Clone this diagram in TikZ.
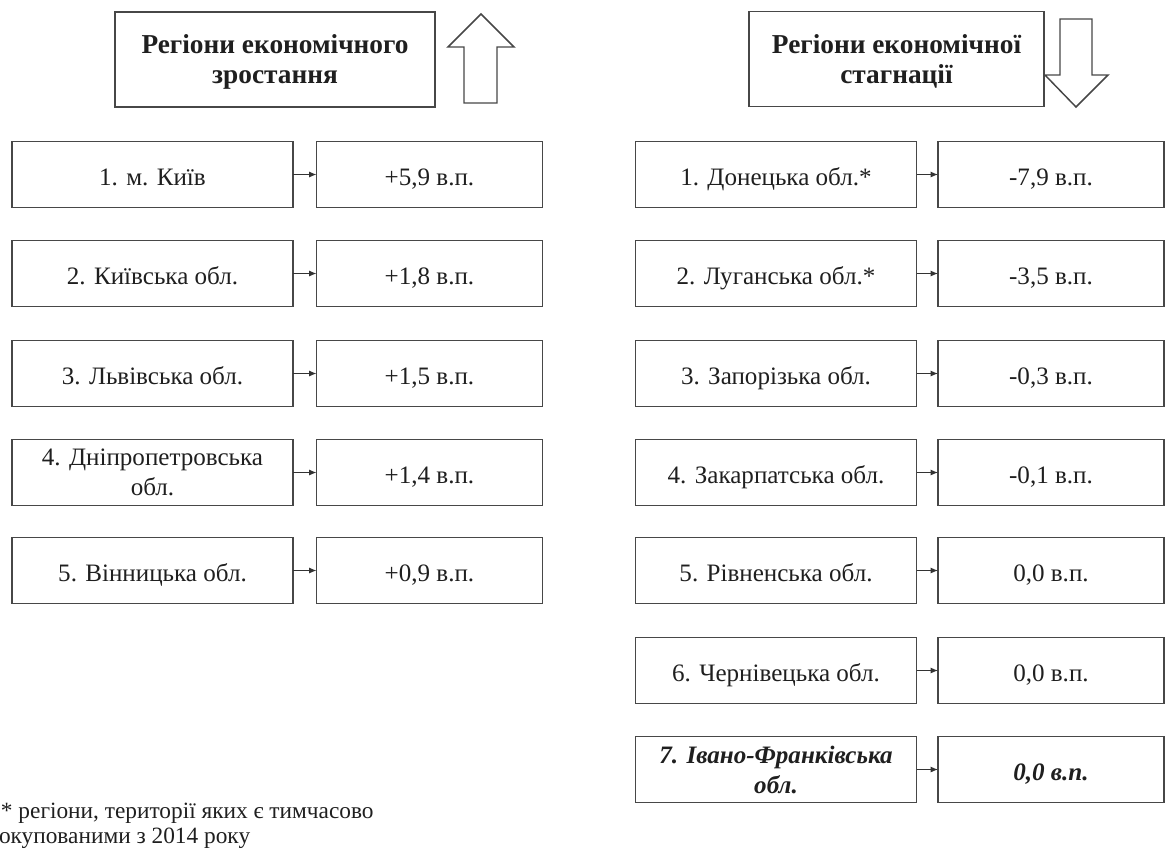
\documentclass[tikz,border=0pt]{standalone}
\usepackage{fontspec}
\setmainfont{Liberation Serif}
\usetikzlibrary{arrows.meta}
\begin{document}
\begin{tikzpicture}[x=0.75pt,y=-0.75pt,
  every node/.style={inner sep=0pt,outer sep=0pt,text=black!88},
  boxa/.style={draw=black!72,line width=1.1pt,minimum width=281*0.75pt,minimum height=66*0.75pt,align=center,
    font=\fontsize{18.8}{22.5}\selectfont,text depth=0pt,execute at begin node={\rule{0pt}{16.5pt}}},
  boxb/.style={boxa,minimum width=226*0.75pt},
  head/.style={draw=black!72,line width=1.1pt,minimum height=95*0.75pt,align=center,
    font=\fontsize{20.5}{22.5}\selectfont\bfseries,text depth=0pt,execute at begin node={\rule{0pt}{15pt}}},
  conn/.style={draw=black!80,line width=0.8pt,-{Latex[length=5.5pt,width=4.5pt]}},
  bigarrow/.style={draw=black!72,line width=1.1pt,line join=miter},
  note/.style={anchor=base west,font=\fontsize{17.5}{21}\selectfont}
]
\useasboundingbox (0,0) rectangle (1165,850);

% headers
\node[head,minimum width=320*0.75pt] (hl) at (275,59.5) {Регіони економічного\\зростання};
\node[head,minimum width=295*0.75pt] (hr) at (896.5,59) {Регіони економічної\\стагнації};

% big arrows
\draw[bigarrow] (481,14) -- (514,47) -- (497,47) -- (497,103) -- (464,103) -- (464,47) -- (448,47) -- cycle;
\draw[bigarrow] (1060,19) -- (1092,19) -- (1092,75) -- (1108,75) -- (1076,107) -- (1045,75) -- (1060,75) -- cycle;

% left column
\node[boxa] (l1) at (152.5,174.5) {1. м. Київ};
\node[boxb] (lv1) at (429.5,174.5) {+5,9 в.п.};
\node[boxa] (l2) at (152.5,273.5) {2. Київська обл.};
\node[boxb] (lv2) at (429.5,273.5) {+1,8 в.п.};
\node[boxa] (l3) at (152.5,373.5) {3. Львівська обл.};
\node[boxb] (lv3) at (429.5,373.5) {+1,5 в.п.};
\node[boxa] (l4) at (152.5,472.5) {4. Дніпропетровська\\обл.};
\node[boxb] (lv4) at (429.5,472.5) {+1,4 в.п.};
\node[boxa] (l5) at (152.5,570.5) {5. Вінницька обл.};
\node[boxb] (lv5) at (429.5,570.5) {+0,9 в.п.};

% right column
\node[boxa] (r1) at (776,174.5) {1. Донецька обл.*};
\node[boxb] (rv1) at (1051,174.5) {-7,9 в.п.};
\node[boxa] (r2) at (776,273.5) {2. Луганська обл.*};
\node[boxb] (rv2) at (1051,273.5) {-3,5 в.п.};
\node[boxa] (r3) at (776,373.5) {3. Запорізька обл.};
\node[boxb] (rv3) at (1051,373.5) {-0,3 в.п.};
\node[boxa] (r4) at (776,472.5) {4. Закарпатська обл.};
\node[boxb] (rv4) at (1051,472.5) {-0,1 в.п.};
\node[boxa] (r5) at (776,570.5) {5. Рівненська обл.};
\node[boxb] (rv5) at (1051,570.5) {0,0 в.п.};
\node[boxa] (r6) at (776,670.5) {6. Чернівецька обл.};
\node[boxb] (rv6) at (1051,670.5) {0,0 в.п.};
\node[boxa,font=\fontsize{18.8}{22.5}\selectfont\bfseries\itshape] (r7) at (776,769.5) {7. Івано-Франківська\\обл.};
\node[boxb,font=\fontsize{18.8}{22.5}\selectfont\bfseries\itshape] (rv7) at (1051,769.5) {0,0 в.п.};

% connectors
\foreach \i in {1,...,5} { \draw[conn] (l\i.east) -- (lv\i.west); }
\foreach \i in {1,...,7} { \draw[conn] (r\i.east) -- (rv\i.west); }

% footnote
\node[note] (n1) at (1,818) {* регіони, території яких є тимчасово};
\node[note] (n2) at (-1,843) {окупованими з 2014 року};
\end{tikzpicture}
\end{document}
